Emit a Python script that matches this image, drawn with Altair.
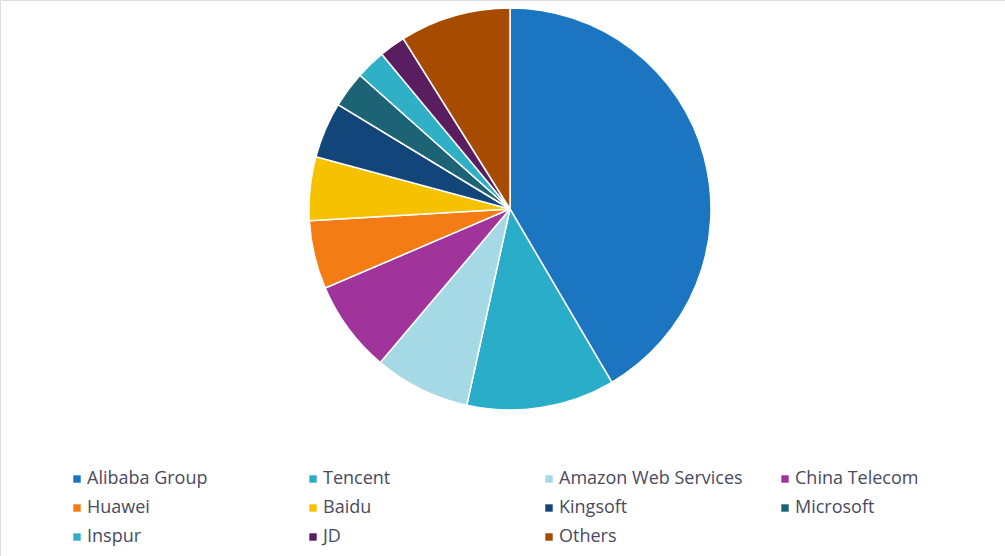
import altair as alt
import pandas as pd

companies = ["Alibaba Group", "Tencent", "Amazon Web Services", "China Telecom",
             "Huawei", "Baidu", "Kingsoft", "Microsoft", "Inspur", "JD", "Others"]
shares = [41.5, 11.9, 7.7, 7.4, 5.5, 5.1, 4.5, 2.9, 2.4, 2.1, 8.9]
colors = ["#1c75c1", "#29adc8", "#a5d9e6", "#a0349b", "#f47c14", "#f6c200",
          "#12457a", "#1d6376", "#2fb0c6", "#5a1d5f", "#a64b00"]

df = pd.DataFrame({"company": companies, "share": shares, "idx": list(range(len(companies)))})

chart = alt.Chart(df).mark_arc(outerRadius=201, stroke="white", strokeWidth=1.5).encode(
    theta=alt.Theta("share:Q", stack=True),
    order=alt.Order("idx:Q"),
    x=alt.value(510),
    y=alt.value(209),
    color=alt.Color(
        "company:N",
        sort=companies,
        scale=alt.Scale(domain=companies, range=colors),
        legend=alt.Legend(
            title=None,
            orient="none",
            direction="horizontal",
            legendX=68,
            legendY=470,
            columns=4,
            gridAlign="all",
            columnPadding=33,
            rowPadding=11,
            symbolType="square",
            symbolSize=55,
            symbolStrokeWidth=0,
            labelFont="Open Sans",
            labelFontSize=18,
            labelColor="#4a4a60",
            labelOffset=1,
            labelLimit=300,
        ),
    ),
).properties(
    width=1005,
    height=556,
    autosize=alt.AutoSizeParams(type="none"),
    padding=0,
).configure_view(stroke=None).configure(background="white")

chart.save("out.html", embed_options={"renderer": "svg", "actions": False})
